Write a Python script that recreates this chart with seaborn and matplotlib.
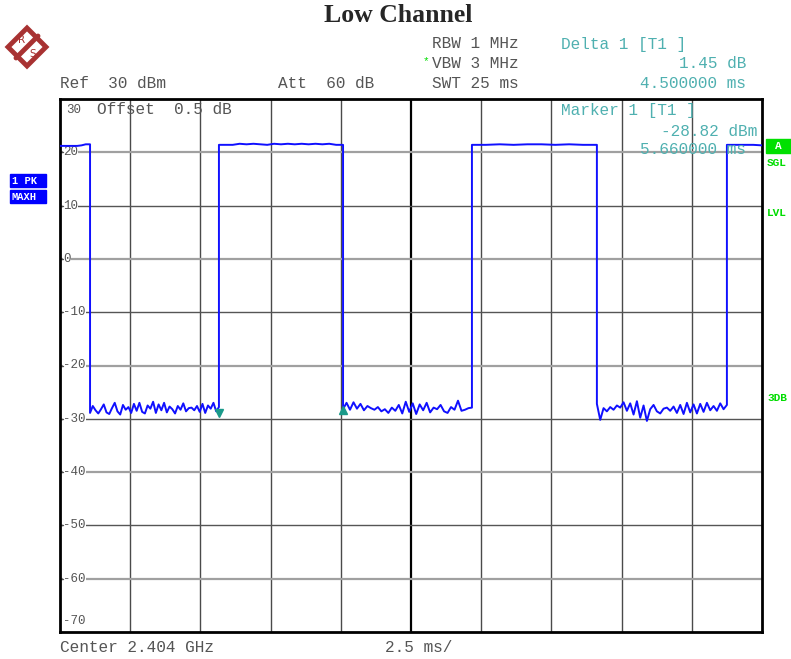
import numpy as np
import pandas as pd
import matplotlib
matplotlib.use("Agg")
import matplotlib.pyplot as plt
import seaborn as sns
from matplotlib.patches import Rectangle, Polygon

# ---------------- data (time in ms, level in dBm) ----------------
edges_ms = [0.0, 1.07, 5.66, 10.08, 14.67, 19.12, 23.75, 25.0]
high1 = [21.2, 21.2, 21.2, 21.2, 21.2, 21.3, 21.5, 21.5]
low1 = [-28.9, -27.6, -28.4, -29.0, -28.2, -27.3, -28.8, -29.1, -28.0, -27.0,
        -28.6, -29.2, -27.4, -28.3, -27.8, -28.9, -27.2, -28.5, -27.0, -28.7,
        -29.0, -27.5, -28.1, -26.8, -28.9, -27.3, -28.4, -27.0, -28.8, -27.7,
        -28.2, -29.0, -27.6, -28.3, -27.1, -28.6, -28.0, -27.9, -28.4, -27.6,
        -28.7, -27.2, -28.9, -27.5, -28.1, -27.0, -28.6, -27.8]
high2 = [21.4, 21.4, 21.4, 21.6, 21.5, 21.6, 21.5, 21.4, 21.6, 21.5, 21.6,
         21.5, 21.6, 21.5, 21.6, 21.5, 21.6, 21.4, 21.4]
low2 = [-28.2, -27.0, -28.3, -26.9, -28.1, -27.2, -28.4, -27.6, -28.0, -28.3,
        -27.8, -28.6, -28.2, -28.9, -27.9, -28.5, -27.4, -29.0, -26.8, -28.7,
        -27.1, -29.1, -27.3, -28.4, -27.0, -28.8, -27.9, -28.2, -27.4, -28.6,
        -28.9, -27.8, -28.3, -26.6, -28.5, -28.3, -28.0, -27.9]
high3 = [21.4, 21.4, 21.5, 21.4, 21.5, 21.5, 21.4, 21.5, 21.4, 21.4]
low3 = [-27.2, -30.2, -28.0, -28.6, -27.8, -28.3, -27.5, -27.9, -26.9, -28.5,
        -27.1, -29.2, -26.7, -29.8, -27.5, -30.4, -28.2, -27.4, -28.6, -29.0,
        -28.1, -27.9, -28.5, -27.7, -28.9, -27.4, -29.1, -27.0, -28.8, -27.3,
        -29.0, -27.2, -28.7, -27.0, -28.4, -27.6, -28.5, -27.1, -28.2, -27.4]
high4 = [21.4, 21.4, 21.4, 21.4, 21.3]
segments = [high1, low1, high2, low2, high3, low3, high4]

marker1 = (5.66, -28.82)
delta1 = (10.16, -27.37)

y_labels = [30, 20, 10, 0, -10, -20, -30, -40, -50, -60, -70]

# ---------------- build trace ----------------
ts, vs = [], []
for i, seg in enumerate(segments):
    t0, t1 = edges_ms[i], edges_ms[i + 1]
    ts.extend(np.linspace(t0, t1, len(seg)))
    vs.extend(seg)
df = pd.DataFrame({"t": ts, "level": vs})

W, H = 791, 659
sns.set_style("white")
plt.rcParams["font.family"] = ["Liberation Mono", "DejaVu Sans"]
fig = plt.figure(figsize=(W / 100, H / 100), dpi=100)

def fx(x):
    return x / W

def fy(y):
    return 1 - y / H

L, R, T, B = 60, 762, 99, 632
ax = fig.add_axes([fx(L), fy(B), fx(R) - fx(L), fy(T) - fy(B)])
ax.set_xlim(0, 25)
ax.set_ylim(-70, 30)

# grid
for k in range(1, 10):
    ax.axvline(k * 2.5, color="#4a4a4a" if k != 5 else "black",
               lw=1.0 if k != 5 else 1.6, zorder=1)
for k, yv in enumerate(range(20, -70, -10)):
    ax.axhline(yv, color="#555555" if k % 2 else "#a0a0a0", lw=1.0 if k % 2 else 1.6, zorder=1)

sns.lineplot(data=df, x="t", y="level", ax=ax, color="#1010ff", lw=1.4,
             zorder=3, estimator=None, sort=False)

# markers
ax.plot([marker1[0]], [marker1[1]], marker="v", color="#1a9a8a", ms=6, zorder=4)
ax.plot([delta1[0] - 0.08], [delta1[1] - 0.9], marker="^", color="#1a9a8a", ms=6, zorder=4)

ax.set_xticks([])
ax.set_yticks([])
ax.set_xlabel("")
ax.set_ylabel("")
for s in ax.spines.values():
    s.set_linewidth(2)
    s.set_color("black")

# y labels inside
for yv in y_labels:
    if yv == 30:
        ax.text(0.22, 28.0, "30", fontsize=9, color="#555555", ha="left", va="center")
    elif yv == -70:
        ax.text(0.1, -68.0, "-70", fontsize=9, color="#555555", ha="left", va="center")
    else:
        ax.text(0.11, yv, f"{yv:d}", fontsize=9, color="#555555", ha="left", va="center",
                bbox=dict(facecolor="white", edgecolor="none", pad=0.3), zorder=2)
        ax.plot([0, 0.1], [yv, yv], color="#555555", lw=1, zorder=2)

gray = "#555555"
teal = "#4fb0b0"
green = "#00dd00"
fs = 11.6

fig.text(fx(398), fy(16), "Low Channel", ha="center", va="center",
         fontsize=18.5, fontweight="bold", family="Liberation Serif")

def t(x, y, s, **kw):
    kw.setdefault("fontsize", fs)
    kw.setdefault("color", gray)
    kw.setdefault("va", "center")
    fig.text(fx(x), fy(y), s, **kw)

t(60, 83, "Ref  30 dBm")
t(278, 83, "Att  60 dB")
t(432, 44, "RBW 1 MHz")
t(432, 63, "VBW 3 MHz")
t(423, 61, "*", color=green, fontsize=8)
t(432, 83, "SWT 25 ms")
t(561, 44, "Delta 1 [T1 ]", color=teal)
t(746, 63, "1.45 dB", color=teal, ha="right")
t(746, 83, "4.500000 ms", color=teal, ha="right")
t(561, 111, "Marker 1 [T1 ]", color=teal)
t(757, 131, "-28.82 dBm", color=teal, ha="right")
t(746, 150, "5.660000 ms", color=teal, ha="right")
t(97, 110, "Offset  0.5 dB")
t(60, 648, "Center 2.404 GHz")
t(385, 648, "2.5 ms/")

# left boxes
for y0, s in [(174, "1 PK"), (190, "MAXH")]:
    fig.patches.append(Rectangle((fx(10), fy(y0 + 13)), fx(36), 13 / H,
                                 transform=fig.transFigure, color="#0000ff"))
    t(12, y0 + 6.5, s, color="white", fontsize=7.5, fontweight="bold")

# right labels
fig.patches.append(Rectangle((fx(766), fy(153)), fx(25), 14 / H,
                             transform=fig.transFigure, color="#00e000"))
t(778, 146, "A", color="white", fontsize=8, fontweight="bold", ha="center")
t(767, 163, "SGL", color=green, fontsize=8, fontweight="bold")
t(767, 213, "LVL", color=green, fontsize=8, fontweight="bold")
t(767, 398, "3DB", color=green, fontsize=8, fontweight="bold")

# R&S logo
cx, cy, r = 27, 47, 19
fig.patches.append(Polygon([(fx(cx - r), fy(cy)), (fx(cx), fy(cy - r)),
                            (fx(cx + r), fy(cy)), (fx(cx), fy(cy + r))],
                           closed=True, transform=fig.transFigure,
                           facecolor="white", edgecolor="#a83232", lw=3.5))
fig.lines.append(plt.Line2D([fx(cx - 11), fx(cx + 11)], [fy(cy + 11), fy(cy - 11)],
                            transform=fig.transFigure, color="#a83232", lw=3.5))
t(cx - 5, cy - 7, "R", color="#a83232", fontsize=7.5, ha="center", family="DejaVu Sans")
t(cx + 6, cy + 7, "S", color="#a83232", fontsize=7.5, ha="center", family="DejaVu Sans")

fig.savefig("out.png", dpi=100)
